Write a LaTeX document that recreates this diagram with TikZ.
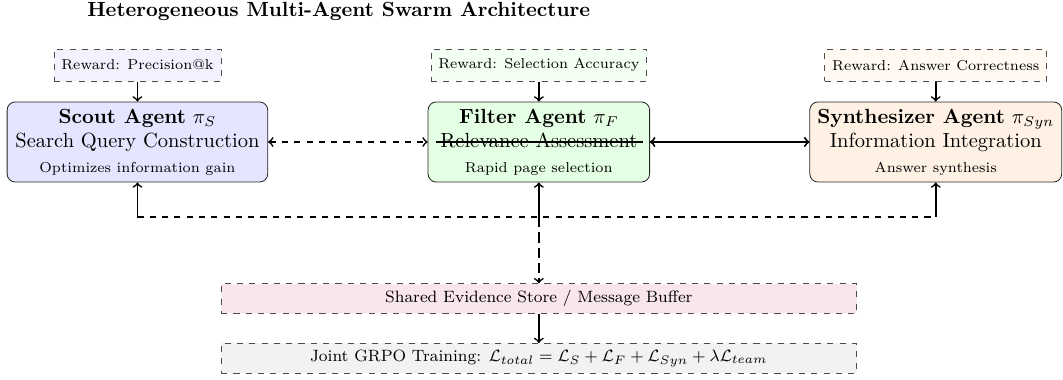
\documentclass[tikz,border=0pt]{standalone}
\usetikzlibrary{positioning,calc}

\tikzset{
  agent/.style={draw=black!85, rounded corners=4pt, align=center, minimum width=3.8cm, minimum height=1.37cm},
  reward/.style={draw=black!70, dashed, font=\scriptsize, inner sep=3.6pt, minimum height=0.55cm},
  store/.style={draw=black!70, dashed, font=\footnotesize, inner sep=2.5pt, minimum width=10.9cm, minimum height=0.51cm},
  flow/.style={thick},
  comm/.style={thick, dashed},
  longdash/.style={thick, dash pattern=on 5pt off 2.5pt}
}

\begin{document}
\begin{tikzpicture}
  \useasboundingbox (0,0) rectangle (18.23,-6.515);

  \node[font=\bfseries, inner sep=0pt, anchor=base west] (title) at (1.49,-0.286) {Heterogeneous Multi-Agent Swarm Architecture};

  % agents
  \node[agent, fill=blue!10, minimum width=4.47cm] (scout) at (2.357,-2.435)
    {\textbf{Scout Agent} $\pi_S$\\Search Query Construction\\{\scriptsize Optimizes information gain}};
  \node[agent, fill=green!10] (filter) at (9.241,-2.435)
    {\textbf{Filter Agent} $\pi_F$\\Relevance Assessment\\{\scriptsize Rapid page selection}};
  \node[agent, fill=orange!10, minimum width=4.32cm] (synth) at (16.048,-2.435)
    {\textbf{Synthesizer Agent} $\pi_{Syn}$\\Information Integration\\{\scriptsize Answer synthesis}};

  % rewards
  \node[reward, fill=blue!5, above=0.343cm of scout] (rscout) {Reward: Precision@k};
  \node[reward, fill=green!5, above=0.343cm of filter] (rfilter) {Reward: Selection Accuracy};
  \node[reward, fill=orange!5, above=0.343cm of synth] (rsynth) {Reward: Answer Correctness};

  \draw[flow,->] (rscout) -- (scout);
  \draw[flow,->] (rfilter) -- (filter);
  \draw[flow,->] (rsynth) -- (synth);

  % communication
  \draw[comm,<->] (scout) -- (filter);
  \draw[comm,<->] (filter) -- (synth);
  \draw[flow,<->] (filter) -- (synth);
  \draw[semithick] ([xshift=0.15cm]filter.west) -- ([xshift=-0.12cm]filter.east);

  % shared store and training
  \node[store, fill=purple!10, below=1.73cm of filter] (shared) {Shared Evidence Store / Message Buffer};
  \node[store, fill=gray!10, below=0.5cm of shared] (joint)
    {Joint GRPO Training: $\mathcal{L}_{total} = \mathcal{L}_S + \mathcal{L}_F + \mathcal{L}_{Syn} + \lambda\mathcal{L}_{team}$};

  \coordinate (bus) at (filter.south |- 0,-3.72);
  \draw[comm] (scout.south |- bus) -- (synth.south |- bus);
  \draw[flow,->] (scout.south |- bus) -- (scout.south);
  \draw[flow,->] (bus) -- (filter.south);
  \draw[flow,->] (synth.south |- bus) -- (synth.south);
  \draw[longdash,->] (bus) -- (shared);
  \draw[flow,->] (shared) -- (joint);
\end{tikzpicture}
\end{document}
